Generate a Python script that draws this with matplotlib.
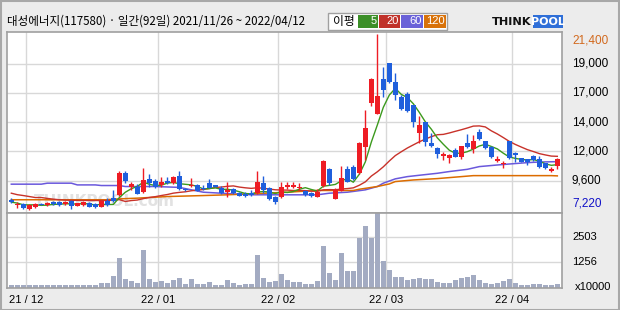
import matplotlib
matplotlib.use("Agg")
import matplotlib.pyplot as plt
import matplotlib.transforms as mtransforms
from matplotlib.patches import Rectangle
import numpy as np
import pandas as pd

plt.rcParams['font.family'] = ['Noto Sans CJK KR', 'DejaVu Sans']

# 일봉 데이터 (2021/11/26 ~ 2022/04/12, 92일)
opens = [8060, 7580, 7660, 7310, 7440, 7690, 7580, 7870, 7870, 7660,
         7930, 7550, 7610, 7790, 7690, 7470, 7930, 8170, 8440, 10180,
         9080, 9110, 8630, 9730, 9560, 9240, 9590, 9400, 9990, 8920,
         9160, 9220, 9000, 9380, 9220, 9000, 8630, 8920, 8570, 8520,
         8570, 8570, 9380, 9030, 8300, 8250, 9050, 9110, 8950, 8760,
         8570, 8300, 9160, 10530, 8140, 8760, 10530, 10720, 10240, 12270,
         15870, 15010, 17770, 19120, 17560, 16350, 16570, 15680, 13450, 14340,
         12650, 12250, 11600, 11390, 12060, 11470, 12650, 12110, 13540, 12780,
         12330, 11170, 10930, 12780, 11850, 11420, 11310, 11580, 11310, 10990,
         10400, 10770]
highs = [8170, 7850, 7740, 7690, 7740, 7740, 7820, 7930, 7930, 7930,
         7980, 7790, 7930, 7850, 7740, 7980, 8170, 8790, 10400, 10400,
         9510, 9320, 10640, 10100, 9700, 9910, 9910, 9990, 10370, 8970,
         9810, 9320, 9270, 9730, 9270, 9160, 9510, 8970, 8630, 8700,
         8790, 10400, 9990, 9080, 8360, 9510, 9510, 9460, 9380, 8840,
         8630, 8890, 11250, 10640, 8970, 10770, 10770, 10850, 12680, 15280,
         17880, 21400, 18770, 19120, 18280, 16490, 16750, 15700, 14800, 14360,
         13400, 12330, 11930, 11700, 12190, 12420, 13350, 13240, 13750, 12820,
         12360, 11600, 11170, 12810, 11880, 11440, 11330, 11660, 11600, 11010,
         10720, 11420]
lows = [7770, 7360, 7280, 7220, 7390, 7580, 7530, 7630, 7550, 7610,
        7310, 7500, 7550, 7420, 7360, 7420, 7550, 7850, 8380, 9380,
        8840, 8490, 8570, 9110, 9000, 9110, 9350, 9350, 8790, 8760,
        9050, 8710, 8840, 8970, 9050, 8540, 8250, 8520, 8330, 8250,
        8380, 8520, 8570, 8060, 7690, 8200, 8890, 8970, 8840, 8380,
        8250, 8250, 9110, 9240, 8090, 8710, 9460, 9640, 10100, 11250,
        15600, 14960, 16350, 17500, 16080, 15300, 15150, 13940, 12600, 12380,
        12270, 11390, 11250, 11040, 11480, 11360, 12190, 11790, 12860, 12150,
        11440, 11120, 10580, 11310, 11120, 11090, 10850, 11170, 10640, 10560,
        10260, 10500]
closes = [7850, 7690, 7360, 7600, 7660, 7630, 7770, 7690, 7630, 7870,
          7550, 7740, 7870, 7470, 7420, 7900, 7610, 7900, 10240, 9590,
          9320, 8540, 9640, 9380, 9050, 9460, 9400, 9890, 8890, 8810,
          9220, 8760, 8890, 9030, 9110, 8600, 8790, 8570, 8380, 8380,
          8440, 9510, 8840, 8120, 7820, 9110, 9240, 9240, 9050, 8440,
          8380, 8630, 11170, 9380, 8840, 9830, 9510, 9730, 12600, 13830,
          17830, 16410, 16890, 17560, 16540, 15360, 15200, 14340, 14070, 12730,
          12380, 11710, 11740, 11660, 11520, 12380, 12330, 12780, 12920, 12190,
          11520, 11340, 11040, 11390, 11630, 11120, 11070, 11250, 10720, 10580,
          10500, 11340]
# 거래량 (x10000)
volume = [110, 110, 110, 110, 110, 110, 110, 110, 110, 110,
          110, 110, 110, 110, 110, 215, 215, 580, 1460, 415,
          315, 215, 1860, 415, 280, 315, 215, 380, 465, 165,
          415, 165, 165, 280, 115, 115, 365, 230, 115, 165,
          165, 1630, 465, 280, 330, 665, 380, 280, 280, 165,
          165, 330, 2075, 715, 380, 1730, 830, 830, 2460, 3075,
          2460, 3710, 1310, 865, 530, 530, 380, 415, 465, 415,
          415, 280, 215, 215, 365, 465, 530, 630, 380, 215,
          165, 215, 330, 415, 215, 115, 115, 165, 165, 115,
          115, 165]

# 이동평균선
ma20_head = [8570, 8450, 8380, 8300, 8220, 8220, 8150, 8090, 8040, 8010,
             8000, 7990, 7990, 7980, 7980, 7980, 7980, 8000, 8050]
ma60_idx = [0, 5, 6, 10, 11, 14, 15, 18, 19, 24, 28, 32, 35, 40, 51,
            53, 56, 59, 61, 62, 64, 66, 68, 71, 73, 76, 78, 81, 83, 86, 88, 91]
ma60_val = [9300, 9300, 9380, 9380, 9240, 9240, 9190, 9190, 9110, 9110, 9040,
            8650, 8570, 8440, 8440, 8570, 8650, 8840, 9110, 9380, 9730, 9910,
            10020, 10180, 10320, 10500, 10720, 10850, 10930, 11040, 11090, 11120]
ma120_idx = [0, 16, 17, 21, 26, 32, 36, 40, 46, 51, 57, 58, 61, 63, 64, 67,
             71, 73, 75, 77, 90, 91]
ma120_val = [8040, 8040, 8090, 8170, 8300, 8380, 8440, 8520, 8650, 8790,
             8790, 8890, 9110, 9320, 9510, 9640, 9750, 9830, 9910, 9990,
             9990, 9970]

month_starts = [3, 25, 45, 63, 84]
month_labels = ['21 / 12', '22 / 01', '22 / 02', '22 / 03', '22 / 04']
price_ticks = [9583, 11947, 14310, 16673, 19037]
price_labels = ['9,600', '12,000', '14,000', '17,000', '19,000']
vol_ticks = [1256, 2503]
vol_labels = ['1256', '2503']

W, H = 620, 310


def box(l, t, r, b):
    return [l / W, 1 - b / H, (r - l) / W, (b - t) / H]


fig = plt.figure(figsize=(W / 100, H / 100), dpi=100)
fig.patch.set_facecolor('#ececec')
fig.patches.append(Rectangle((0.5 / W, 0.5 / H), 1 - 1.5 / W, 1 - 1.5 / H,
                             transform=fig.transFigure, fill=False,
                             edgecolor='#a8a8a8', lw=1.5))

ax = fig.add_axes(box(7, 31.5, 562, 212.5))
axv = fig.add_axes(box(7, 212.5, 562, 288.3))

x = np.arange(len(closes))
o = np.array(opens)
c = np.array(closes)
up = c >= o
up_col, dn_col = '#ee1c24', '#1f5fdc'
cols = np.where(up, up_col, dn_col)

# 워터마크
ax.text(15.5, 7870, 'THINKPOOL.com', fontsize=11, fontweight='bold',
        color='#e2e2e2', va='center', ha='center', zorder=0,
        family=['DejaVu Sans'])

ax.vlines(x, lows, highs, colors=cols, lw=1, zorder=3)
ax.bar(x, np.maximum(np.abs(c - o), 45), bottom=np.minimum(o, c),
       width=0.78, color=cols, zorder=4, linewidth=0)

s = pd.Series(closes)
ma5 = s.rolling(5, min_periods=1).mean()
ma20 = s.rolling(20).mean()
ma20[:len(ma20_head)] = ma20_head

ax.plot(ma60_idx, ma60_val, color='#6a58dc', lw=1.1, zorder=2)
ax.plot(ma120_idx, ma120_val, color='#dc6c00', lw=1.1, zorder=2)
ax.plot(x, ma20, color='#c8322a', lw=1, zorder=2)
ax.plot(x, ma5, color='#3c9a1e', lw=1, zorder=2)

xlim = (-0.72, 91.78)
for a in (ax, axv):
    a.set_xlim(*xlim)
    a.set_xticks([])
    a.set_yticks([])
    a.set_facecolor('white')
    for sp in a.spines.values():
        sp.set_color('#a0a0a0')
        sp.set_linewidth(1.2)
    for m in month_starts:
        a.axvline(m - 0.5, color='#d8d8d8', lw=1, zorder=0)

ax.set_ylim(7010, 21640)
for t in price_ticks:
    ax.axhline(t, color='#d8d8d8', lw=1, zorder=0)

tr = mtransforms.blended_transform_factory(ax.transAxes, ax.transData)
lab_x = (572 - 7) / 555
num_font = ['Liberation Sans', 'DejaVu Sans']
for t, l in zip(price_ticks, price_labels):
    ax.text(lab_x, t, l, transform=tr, va='center', ha='left',
            fontsize=8.5, family=num_font)
ax.text(lab_x, max(highs), '21,400', transform=tr, va='top', ha='left',
        fontsize=8.5, family=num_font, color='#d2691e')
ax.text(lab_x, min(lows), '7,220', transform=tr, va='bottom', ha='left',
        fontsize=8.5, family=num_font, color='#1010c8')

axv.bar(x, volume, width=0.8, color='#a3abc2', linewidth=0, zorder=2)
axv.set_ylim(-40, 3750)
for t in vol_ticks:
    axv.axhline(t, color='#d8d8d8', lw=1, zorder=0)
trv = mtransforms.blended_transform_factory(axv.transAxes, axv.transData)
for t, l in zip(vol_ticks, vol_labels):
    axv.text(lab_x, t, l, transform=trv, va='center', ha='left',
             fontsize=8, family=num_font)
axv.text((575 - 7) / 555, 30, 'x10000', transform=trv, va='center',
         ha='left', fontsize=8, family=num_font)

for m, l in zip(month_starts, month_labels):
    xp = 7 + (m - 0.5 - xlim[0]) / (xlim[1] - xlim[0]) * 555
    fig.text(xp / W, 1 - 300 / H, l, ha='center', va='center',
             fontsize=8, family=num_font)

# 제목과 범례
fig.text(7 / W, 1 - 21.5 / H,
         '대성에너지(117580) · 일간(92일) 2021/11/26 ~ 2022/04/12',
         fontsize=8.3, va='center', ha='left')
fig.patches.append(Rectangle((328 / W, 1 - 30 / H), 119 / W, 17 / H,
                             transform=fig.transFigure, facecolor='white',
                             edgecolor='#a0a0a0', lw=1))
fig.text(333 / W, 1 - 21.5 / H, '이평', fontsize=8.5, va='center', ha='left')
legend_boxes = [(358, 378, '#3c8f28', '5'), (379, 400, '#c0322a', '20'),
                (401, 423, '#6a62d8', '60'), (424, 446, '#d8720a', '120')]
for l, r, col, txt in legend_boxes:
    fig.patches.append(Rectangle((l / W, 1 - 27.7 / H), (r - l) / W, 12.7 / H,
                                 transform=fig.transFigure, facecolor=col,
                                 edgecolor='none'))
    fig.text((r - 1.5) / W, 1 - 21.5 / H, txt, fontsize=8, color='white',
             va='center', ha='right', family=num_font)

# 로고
fig.text(532 / W, 1 - 22 / H, 'THINK', fontsize=8.2, fontweight='bold',
         va='center', ha='right', family=['DejaVu Sans'], color='#111111')
fig.patches.append(Rectangle((533 / W, 1 - 28 / H), 30 / W, 13 / H,
                             transform=fig.transFigure, facecolor='#2f6fd8',
                             edgecolor='none'))
fig.text(548 / W, 1 - 22 / H, 'POOL', fontsize=8, fontweight='bold',
         va='center', ha='center', family=['DejaVu Sans'], color='white')

fig.savefig('out.png', dpi=100, facecolor=fig.get_facecolor())
